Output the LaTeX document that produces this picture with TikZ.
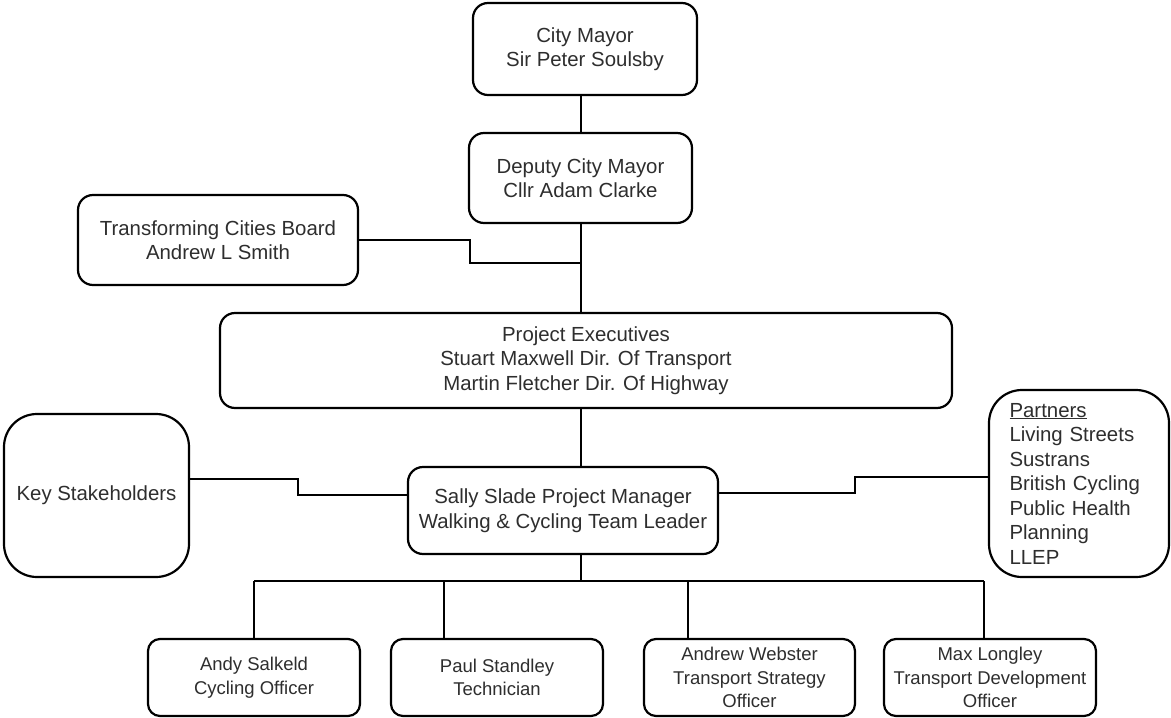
\documentclass[tikz,border=0pt]{standalone}
\usepackage{fontspec}
\setmainfont{Liberation Sans}
\definecolor{txt}{HTML}{2E2E2E}
\tikzset{
  box/.style={draw=black, line width=2.2pt, fill=white, rounded corners=15pt, inner sep=0pt,
    align=center, text=txt, font=\fontsize{20.4}{24.5}\selectfont},
  smallbox/.style={box, rounded corners=12pt, font=\fontsize{18.5}{23.5}\selectfont,
    minimum width=212pt, minimum height=77pt},
  bigbox/.style={box, rounded corners=33pt},
  conn/.style={draw=black, line width=2pt},
}
\begin{document}
\begin{tikzpicture}[x=1pt,y=-1pt]
\useasboundingbox (0,0) rectangle (1171,718);

% boxes
\node[box, minimum width=224pt, minimum height=92pt] (mayor) at (585,49) {City Mayor\\Sir Peter Soulsby};
\node[box, minimum width=223pt, minimum height=90pt] (deputy) at (580.5,178) {Deputy City Mayor\\Cllr Adam Clarke};
\node[box, minimum width=280pt, minimum height=90pt] (tcb) at (218,240) {Transforming Cities Board\\Andrew L Smith};
\node[box, minimum width=732pt, minimum height=95pt] (exec) at (586,360.5) {Project Executives\\Stuart Maxwell Dir. Of Transport\\Martin Fletcher Dir. Of Highway};
\node[bigbox, minimum width=185pt, minimum height=163pt] (ks) at (96.5,495.5) {Key Stakeholders};
\node[box, minimum width=310pt, minimum height=87pt] (sally) at (563,510.5) {Sally Slade Project Manager\\Walking \& Cycling Team Leader};
\node[bigbox, minimum width=180pt, minimum height=187pt, text width=139pt, align=left] (partners) at (1079,483.5)
  {\underline{Partners}\\Living Streets\\Sustrans\\British Cycling\\Public Health\\Planning\\LLEP};
\node[smallbox] (andy) at (254,677.5) {Andy Salkeld\\Cycling Officer};
\node[smallbox] (paul) at (497,677.5) {Paul Standley\\Technician};
\node[smallbox, minimum width=211pt] (andrew) at (749.5,677.5) {Andrew Webster\\Transport Strategy\\Officer};
\node[smallbox] (max) at (990,677.5) {Max Longley\\Transport Development\\Officer};

% bend points
\coordinate (t1) at (470,240);
\coordinate (t2) at (470,263);
\coordinate (j1) at (580.5,263);
\coordinate (k1) at (298,479);
\coordinate (k2) at (298,495);
\coordinate (p1) at (855,493);
\coordinate (p2) at (855,477);
\coordinate (bus) at (580.5,581);
\coordinate (b1) at (254,581);
\coordinate (b2) at (444,581);
\coordinate (b3) at (688,581);
\coordinate (b4) at (984,581);

% connectors
\draw[conn] (mayor.south -| deputy.north) -- (deputy.north);
\draw[conn] (deputy.south) -- (deputy.south |- exec.north);
\draw[conn] (tcb.east) -- (t1) -- (t2) -- (j1);
\draw[conn] (exec.south -| deputy.south) -- (sally.north -| deputy.south);
\draw[conn] (ks.east |- k1) -- (k1) -- (k2) -- (sally.west |- k2);
\draw[conn] (sally.east |- p1) -- (p1) -- (p2) -- (partners.west |- p2);
\draw[conn] (sally.south -| bus) -- (bus);
\draw[conn] (b1) -- (b4);
\draw[conn] (b1) -- (b1 |- andy.north);
\draw[conn] (b2) -- (b2 |- paul.north);
\draw[conn] (b3) -- (b3 |- andrew.north);
\draw[conn] (b4) -- (b4 |- max.north);
\end{tikzpicture}
\end{document}
